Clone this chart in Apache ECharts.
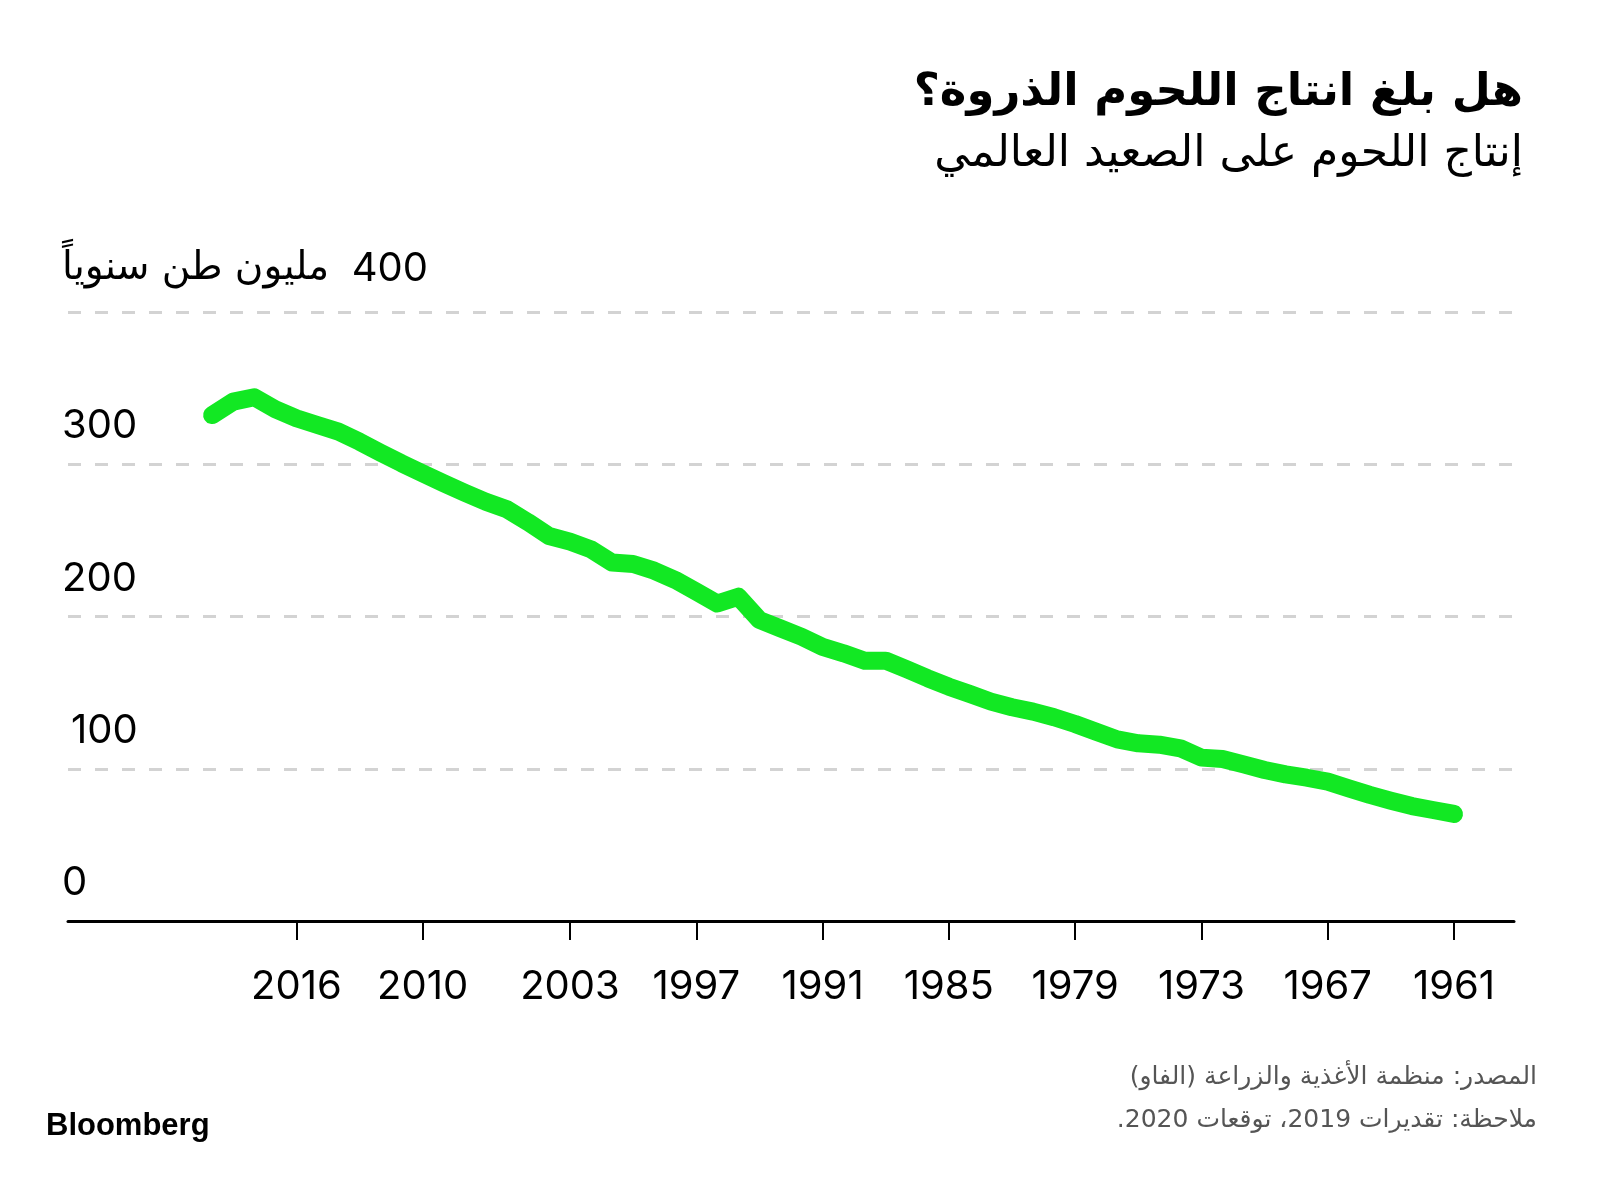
<!DOCTYPE html>
<html>
<head>
<meta charset="utf-8">
<script src="https://cdn.jsdelivr.net/npm/echarts@6/dist/echarts.min.js"></script>
<style>
  html, body { margin: 0; padding: 0; background: #fff; }
  #chart { width: 1600px; height: 1180px; }
</style>
</head>
<body>
<div id="chart"></div>
<script>
// ---- Data ----
const years = [1961,1962,1963,1964,1965,1966,1967,1968,1969,1970,
               1971,1972,1973,1974,1975,1976,1977,1978,1979,1980,
               1981,1982,1983,1984,1985,1986,1987,1988,1989,1990,
               1991,1992,1993,1994,1995,1996,1997,1998,1999,2000,
               2001,2002,2003,2004,2005,2006,2007,2008,2009,2010,
               2011,2012,2013,2014,2015,2016,2017,2018,2019,2020];
const production = [70.3,72.9,75.5,79.0,82.8,87.1,91.5,94.1,96.3,99.2,
                    102.9,106.4,107.3,113.4,115.8,116.7,119.3,124.3,129.4,133.8,
                    137.5,140.4,144.1,149.1,153.9,159.4,165.3,171.0,171.0,175.8,
                    180.0,186.7,192.2,197.7,213.0,208.5,216.3,224.0,230.1,234.5,
                    235.4,244.1,249.2,252.9,262.0,270.4,275.4,281.3,287.5,294.0,
                    300.6,307.6,314.8,321.4,325.8,330.2,336.1,344.0,341.1,332.3];
const xTickYears = [2016,2010,2003,1997,1991,1985,1979,1973,1967,1961];
const yTicks = [0,100,200,300,400];
const unitLabel = 'مليون طن سنوياً';
const titleText = 'هل بلغ انتاج اللحوم الذروة؟';
const subtitleText = 'إنتاج اللحوم على الصعيد العالمي';
const sourceText = 'المصدر: منظمة الأغذية والزراعة (الفاو)';
const noteText = 'ملاحظة: تقديرات 2019، توقعات 2020.';

const RLM = '\u200F';
const chart = echarts.init(document.getElementById('chart'), null, { renderer: 'canvas' });

const numFont = 'Inter, "Liberation Sans", sans-serif';
const arFont = '"DejaVu Sans", "Noto Sans", sans-serif';

chart.setOption({
  backgroundColor: '#ffffff',
  animation: false,
  title: [
    {
      text: titleText,
      right: 72, top: 66,
      textStyle: { fontFamily: arFont, fontSize: 45, fontWeight: 'bold', color: '#000' }
    },
    {
      text: subtitleText + RLM,
      right: 72, top: 128,
      textStyle: { fontFamily: arFont, fontSize: 44, fontWeight: 'normal', color: '#000' }
    },
    {
      text: sourceText + RLM,
      right: 58, top: 1060,
      textStyle: { fontFamily: arFont, fontSize: 25, fontWeight: 'normal', color: '#555' }
    },
    {
      text: noteText + RLM,
      right: 58, top: 1103,
      textStyle: { fontFamily: arFont, fontSize: 25, fontWeight: 'normal', color: '#555' }
    },
    {
      text: 'Bloomberg',
      left: 41, top: 1106,
      textStyle: { fontFamily: '"Liberation Sans", Arial, sans-serif', fontSize: 31, fontWeight: 'bold', color: '#000' }
    }
  ],
  grid: { left: 68, right: 86, top: 312, bottom: 259, containLabel: false },
  xAxis: {
    type: 'value',
    inverse: true,
    min: 1958.15,
    max: 2026.85,
    splitLine: { show: false },
    axisLine: { show: true, lineStyle: { color: '#000', width: 3 } },
    axisTick: { show: true, customValues: xTickYears, length: 19, lineStyle: { color: '#000', width: 2 } },
    axisLabel: {
      show: true, customValues: xTickYears, margin: 46,
      fontFamily: numFont, fontSize: 40, color: '#000',
      formatter: v => String(v)
    }
  },
  yAxis: {
    type: 'value',
    min: 0, max: 400, interval: 100,
    axisLine: { show: false },
    axisTick: { show: false },
    splitLine: { show: true, lineStyle: { color: '#d3d3d3', width: 3, type: [13, 14] } },
    axisLabel: {
      show: true,
      align: 'left',
      verticalAlign: 'middle',
      margin: 6,
      padding: [0, 0, 76, 0],
      fontFamily: numFont, fontSize: 40, color: '#000',
      formatter: v => {
        if (v === 400) return '{u|' + unitLabel + '}  {n|400}';
        if (v === 100) return '{p|100}';
        return String(v);
      },
      rich: {
        u: { fontFamily: arFont, fontSize: 39, color: '#000', padding: [0, 0, 10, 0] },
        n: { fontFamily: numFont, fontSize: 40, color: '#000', padding: [0, 0, 10, 0] },
        p: { fontFamily: numFont, fontSize: 40, color: '#000', padding: [0, 0, 0, 9] }
      }
    }
  },
  series: [{
    type: 'line',
    data: years.map((y, i) => [y, production[i]]),
    symbol: 'none',
    smooth: false,
    lineStyle: { color: '#12e823', width: 18, cap: 'round', join: 'round' }
  }]
});
</script>
</body>
</html>
